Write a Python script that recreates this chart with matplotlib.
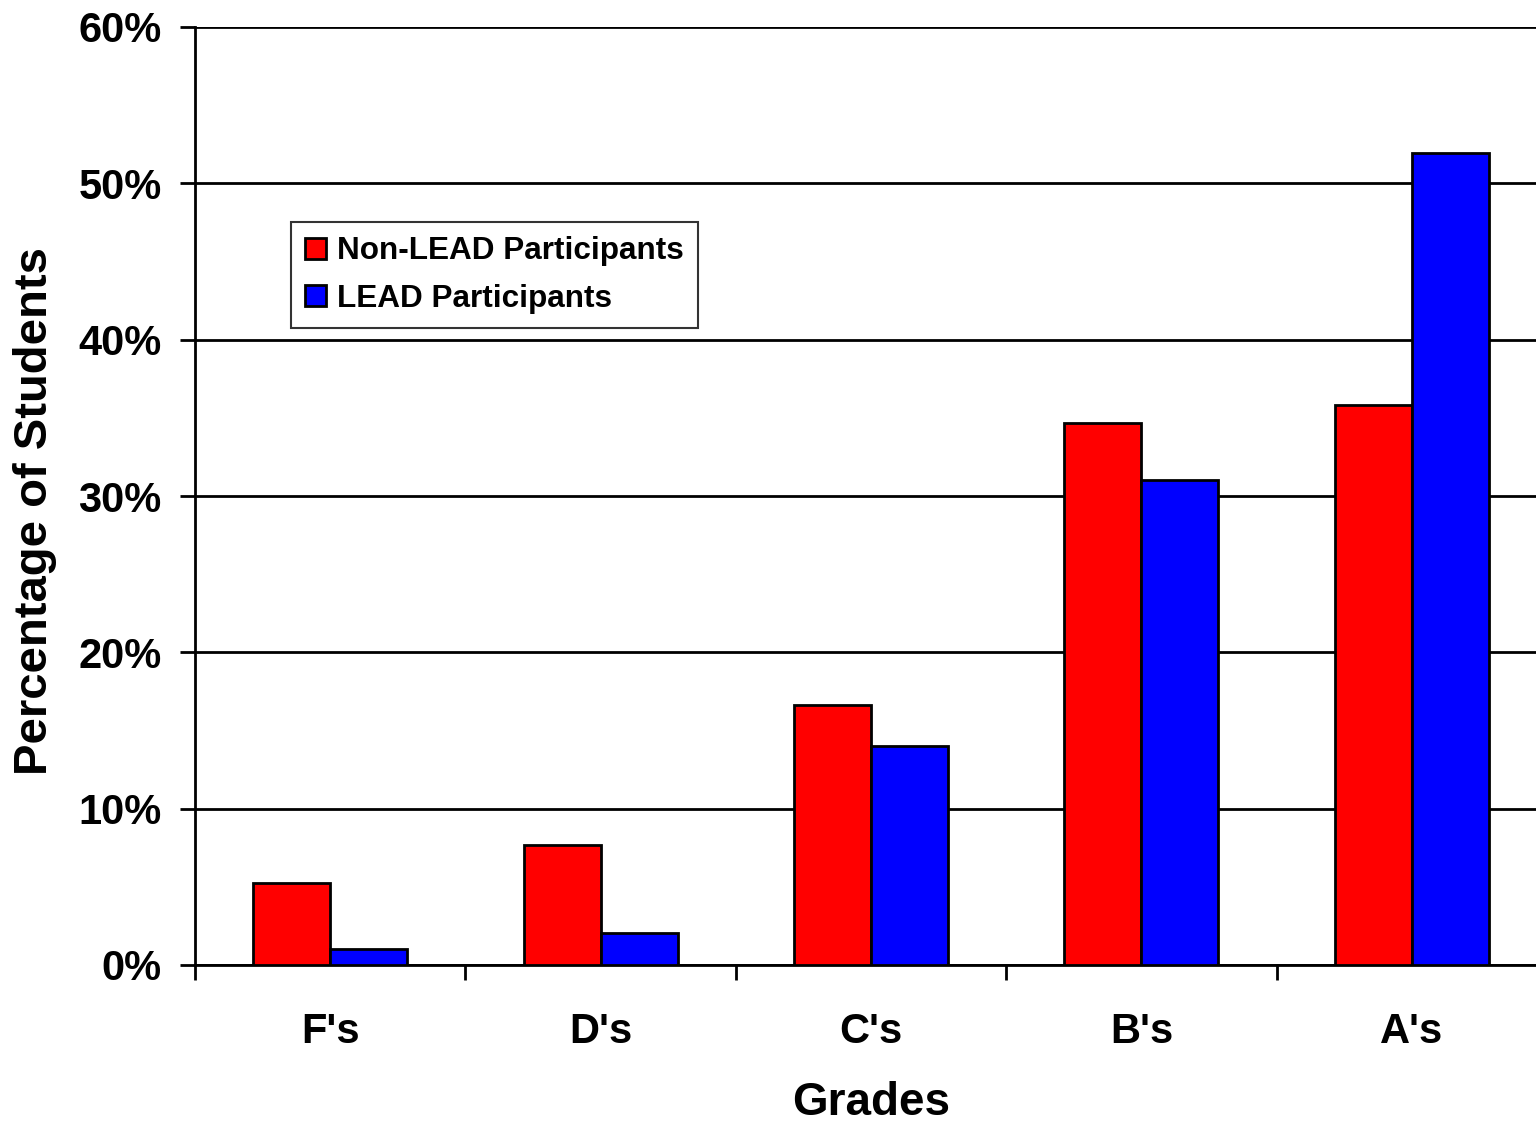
'''
Grade distribution of LEAD vs non-LEAD participants
'''
import matplotlib
matplotlib.use('Agg')
import matplotlib.pyplot as plt
import numpy as np
from matplotlib.ticker import FixedLocator, PercentFormatter

# data
grades = ["F's", "D's", "C's", "B's", "A's"]
non_lead = [5.25, 7.7, 16.6, 34.7, 35.8]
lead = [1.0, 2.05, 14.0, 31.0, 51.95]
series_names = ['Non-LEAD Participants', 'LEAD Participants']

plt.rcParams['font.family'] = ['Liberation Sans', 'DejaVu Sans']
plt.rcParams['font.weight'] = 'bold'

fig = plt.figure(figsize=(15.36, 11.26), dpi=100)
# axes runs slightly off the right edge, like the slide crop
ax = fig.add_axes([195 / 1536, 161 / 1126, 1352 / 1536, 938 / 1126])

x = np.arange(len(grades))
w = 0.285
ax.bar(x - w / 2, non_lead, w, color='#ff0000', edgecolor='black', linewidth=2,
       label=series_names[0], zorder=3)
ax.bar(x + w / 2, lead, w, color='#0000ff', edgecolor='black', linewidth=2,
       label=series_names[1], zorder=3)

ax.set_xlim(-0.5, len(grades) - 0.5)
ax.set_ylim(0, 60)
ax.set_yticks(np.arange(0, 61, 10))
ax.yaxis.set_major_formatter(PercentFormatter(decimals=0))
ax.grid(axis='y', color='black', linewidth=2, zorder=0)

ax.set_xticks(x)
ax.set_xticklabels(grades, fontsize=30, fontweight='bold')
ax.tick_params(axis='x', which='major', length=0, pad=34)
ax.xaxis.set_minor_locator(FixedLocator(np.arange(-0.5, len(grades), 1.0)))
ax.tick_params(axis='x', which='minor', length=11, width=2, direction='out')
ax.tick_params(axis='y', length=11, width=2, direction='out', labelsize=30, pad=13)
for lbl in ax.get_yticklabels():
    lbl.set_fontweight('bold')

for s in ['top', 'right']:
    ax.spines[s].set_visible(False)
ax.spines['left'].set_linewidth(2)
ax.spines['bottom'].set_linewidth(2)

ax.set_xlabel('Grades', fontsize=33, fontweight='bold', labelpad=21)
ax.set_ylabel('Percentage of Students', fontsize=34, fontweight='bold')
ax.yaxis.set_label_coords(-0.102, 0.484)

leg = ax.legend(loc='upper left', bbox_to_anchor=(96 / 1352, 1 - 195 / 938),
                fontsize=22.7, frameon=True, fancybox=False, edgecolor='black',
                handlelength=0.65, handleheight=0.65, handletextpad=0.35,
                borderpad=0.45, labelspacing=0.55, borderaxespad=0)
leg.get_frame().set_linewidth(1.5)
for t in leg.get_texts():
    t.set_fontweight('bold')

plt.savefig('out.png', dpi=100)
